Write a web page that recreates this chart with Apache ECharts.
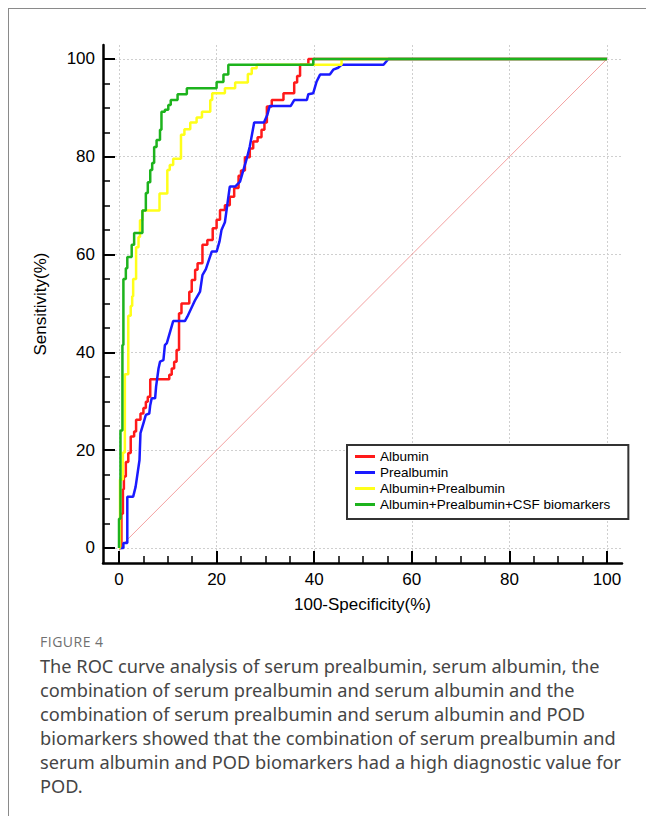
<!DOCTYPE html>
<html><head><meta charset="utf-8">
<script src="https://cdn.jsdelivr.net/npm/echarts@6/dist/echarts.min.js"></script>
<style>
html,body{margin:0;padding:0;background:#fff;}
#wrap{position:relative;width:646px;height:816px;overflow:hidden;background:#fff;}
#frame{position:absolute;left:8px;top:8px;width:700px;height:900px;border-left:1.5px solid #8a8a8a;border-top:1.5px solid #8a8a8a;}
#chart{position:absolute;left:0;top:0;width:646px;height:630px;}
#fig{position:absolute;left:40px;top:633px;font-family:"Open Sans";font-size:14px;line-height:18px;color:#707070;letter-spacing:0.5px;}
#cap{position:absolute;left:40px;top:654px;width:600px;font-family:"Noto Sans";font-size:18.2px;line-height:24px;color:#454545;white-space:nowrap;}
</style></head>
<body>
<div id="wrap">
<div id="frame"></div>
<div id="chart"></div>
<div id="fig">FIGURE 4</div>
<div id="cap">The ROC curve analysis of serum prealbumin, serum albumin, the<br>combination of serum prealbumin and serum albumin and the<br>combination of serum prealbumin and serum albumin and POD<br>biomarkers showed that the combination of serum prealbumin and<br>serum albumin and POD biomarkers had a high diagnostic value for<br>POD.</div>
</div>
<script>
const seriesNames = ['Albumin', 'Prealbumin', 'Albumin+Prealbumin', 'Albumin+Prealbumin+CSF biomarkers'];
const majorTicks = [0, 20, 40, 60, 80, 100];
const minorTicks = [5, 10, 15, 25, 30, 35, 45, 50, 55, 65, 70, 75, 85, 90, 95];
const diagonal = [[0, 0], [100, 100]];

const albumin = [[0,0],[0.5,0],[0.5,7],[0.8,7],[0.8,12],[1.0,12],[1.0,14.6],[1.4,14.6],[1.4,17.6],[1.9,17.6],[1.9,19.4],[2.4,19.4],[2.4,22.8],[3.1,22.8],[3.1,23.8],[3.5,23.8],[3.5,26.2],[4.4,26.2],[4.4,27.5],[5.0,27.5],[5.0,28.6],[5.5,28.6],[5.5,29.9],[5.9,29.9],[5.9,30.9],[6.4,30.9],[6.4,34.5],[10.3,34.5],[10.3,35.4],[10.8,35.4],[10.8,36.7],[11.3,36.7],[11.3,38.1],[11.8,38.1],[11.8,40.5],[12.3,40.5],[12.3,48.0],[12.8,48.0],[12.8,50.0],[14.4,50.0],[14.4,52.4],[14.9,52.4],[14.9,54.8],[15.6,54.8],[15.6,56.9],[16.1,56.9],[16.1,58.2],[17.1,58.2],[17.1,62.0],[18.1,62.0],[18.1,63.0],[19.2,63.0],[19.2,65.4],[20.0,65.4],[20.0,67.1],[20.7,67.1],[20.7,69.1],[21.7,69.1],[21.7,70.1],[22.7,70.1],[22.7,71.8],[23.6,71.8],[23.6,73.6],[24.5,73.6],[24.5,76.1],[25.0,76.1],[25.0,77.2],[25.8,77.2],[25.8,79.9],[26.8,79.9],[26.8,81.7],[27.5,81.7],[27.5,83.1],[28.4,83.1],[28.4,84.0],[29.2,84.0],[29.2,85.5],[29.8,85.5],[29.8,87.0],[30.3,87.0],[30.3,90.3],[31.3,90.3],[31.3,91.6],[33.7,91.6],[33.7,93.0],[35.9,93.0],[35.9,95.2],[36.5,95.2],[36.5,96.5],[37.1,96.5],[37.1,98.8],[38.8,98.8],[38.8,100],[100,100]];

const prealbumin = [[0,0],[0.9,0],[0.9,1.0],[1.7,1.0],[1.7,10.5],[2.9,10.5],[3.4,12.5],[4.2,18.0],[4.4,23.5],[5.0,25.5],[5.5,27.2],[6.2,27.5],[6.4,29.2],[6.7,30.6],[7.4,30.6],[7.6,33.0],[8.1,36.7],[8.4,38.1],[9.1,38.4],[9.4,41.5],[9.8,41.9],[11.1,46.4],[13.5,46.4],[14.0,47.3],[15.6,50.7],[16.6,52.4],[17.1,55.8],[17.8,57.0],[19.0,60.6],[20.0,60.6],[20.6,62.7],[21.0,65.0],[21.7,66.6],[22.7,73.9],[23.8,73.9],[24.8,74.9],[25.5,77.3],[26.2,79.7],[26.8,82.1],[27.7,87.0],[29.7,87.0],[30.4,88.6],[30.9,90.4],[35.2,90.4],[35.9,91.6],[38.5,91.6],[38.8,92.8],[39.8,93.0],[40.5,95.4],[41.2,96.8],[43.2,96.8],[43.9,97.8],[44.9,98.2],[45.6,98.8],[54.2,98.8],[55.2,100],[100,100]];

const combined = [[0,0],[0.2,0],[0.2,14],[0.8,14],[0.8,19.5],[1.2,19.5],[1.2,35.5],[1.9,35.5],[1.9,47.5],[2.4,47.5],[2.4,49.5],[2.7,49.5],[2.7,51.5],[2.9,51.5],[2.9,55],[3.5,55],[3.5,61.5],[4.0,61.5],[4.0,63.6],[4.3,63.6],[4.3,67],[4.8,67],[4.8,69],[8.3,69],[8.3,72.5],[9.9,72.5],[9.9,77.3],[10.4,77.3],[10.4,78.3],[11.1,78.3],[11.1,79.6],[12.7,79.6],[12.7,84.5],[13.4,84.5],[13.4,85.6],[14.6,85.6],[14.6,87],[15.9,87],[15.9,88],[17.0,88],[17.0,89.2],[18.7,89.2],[18.7,91.6],[19.1,91.6],[19.1,93],[21.7,93],[21.7,94],[23.8,94],[23.8,95.2],[26.4,95.2],[26.4,96.9],[27.2,96.9],[27.2,98.1],[28.2,98.1],[28.2,98.8],[45.6,98.8],[45.6,100],[100,100]];

const combinedCsf = [[0,0],[0,6],[0.3,6],[0.3,24],[0.7,24],[0.7,41.5],[0.9,41.5],[0.9,55],[1.4,55],[1.4,57.2],[1.7,57.2],[1.7,59.5],[2.6,59.5],[2.6,62],[3.1,62],[3.1,64.4],[4.8,64.4],[4.8,69],[5.5,69],[5.5,72.6],[5.9,72.6],[5.9,74.8],[6.4,74.8],[6.4,77.3],[6.8,77.3],[6.8,78.7],[7.2,78.7],[7.2,82],[7.7,82],[7.7,83.4],[8.4,83.4],[8.4,85.5],[8.7,85.5],[8.7,89.2],[9.4,89.2],[9.4,89.6],[10.1,89.6],[10.1,90.6],[10.6,90.6],[10.6,91.6],[12.0,91.6],[12.0,92.8],[13.9,92.8],[13.9,94.0],[20.0,94.0],[20.0,95.3],[21.4,95.3],[21.4,96.8],[22.4,96.8],[22.4,98.8],[39.8,98.8],[39.8,100],[100,100]];

const colors = ['#ff1a1a', '#1a1aff', '#ffff1a', '#1db31d'];
const curves = [albumin, prealbumin, combined, combinedCsf];

const font = '"Liberation Sans", Arial, sans-serif';
const xMin = -3.28, xMax = 103.07, yMin = -3.07, yMax = 102.85;

const chart = echarts.init(document.getElementById('chart'), null, {renderer: 'svg'});
const axisCommon = (extra) => Object.assign({
  type: 'value',
  axisLine: {show: true, onZero: false, lineStyle: {color: '#000', width: 2.5}},
  axisTick: {show: true, inside: true, length: 12, customValues: majorTicks, lineStyle: {color: '#000', width: 2}},
  axisLabel: {show: true, customValues: majorTicks, color: '#000', fontSize: 17, fontFamily: font, margin: 8},
  splitLine: {show: true, lineStyle: {color: '#cfcfcf', type: [2, 2], width: 1}},
  minorTick: {show: false}
}, extra);
const minorAxis = (extra) => Object.assign({
  type: 'value',
  axisLine: {show: false, onZero: false},
  axisTick: {show: true, inside: true, length: 7, customValues: minorTicks, lineStyle: {color: '#000', width: 1.5}},
  axisLabel: {show: false},
  splitLine: {show: false}
}, extra);

chart.setOption({
  animation: false,
  backgroundColor: 'transparent',
  grid: {left: 103, right: 24, top: 45, bottom: 67, containLabel: false},
  xAxis: [
    axisCommon({min: xMin, max: xMax, position: 'bottom', name: '100-Specificity(%)', nameLocation: 'middle', nameGap: 33,
      nameTextStyle: {color: '#000', fontSize: 17, fontFamily: font}}),
    minorAxis({min: xMin, max: xMax, position: 'bottom'})
  ],
  yAxis: [
    axisCommon({min: yMin, max: yMax, position: 'left', name: 'Sensitivity(%)', nameLocation: 'middle', nameGap: 54,
      nameTextStyle: {color: '#000', fontSize: 17, fontFamily: font}}),
    minorAxis({min: yMin, max: yMax, position: 'left'})
  ],
  legend: {
    data: seriesNames,
    orient: 'vertical',
    left: 347, top: 445,
    padding: [4, 18, 7, 8],
    itemGap: 1,
    itemWidth: 20, itemHeight: 3,
    icon: 'rect',
    borderColor: '#333', borderWidth: 2, borderRadius: 0,
    backgroundColor: '#fff',
    textStyle: {color: '#000', fontSize: 13.5, fontFamily: font, lineHeight: 15}
  },
  series: [
    {type: 'line', name: 'diag', data: diagonal, symbol: 'none', silent: true,
      lineStyle: {color: '#f08a8a', width: 1, opacity: 0.8}, z: 1}
  ].concat(curves.map((d, i) => ({
    type: 'line', name: seriesNames[i], data: d, symbol: 'none',
    itemStyle: {color: colors[i]},
    lineStyle: {color: colors[i], width: 2.5}, z: 2 + i
  })))
});
</script>
</body></html>
